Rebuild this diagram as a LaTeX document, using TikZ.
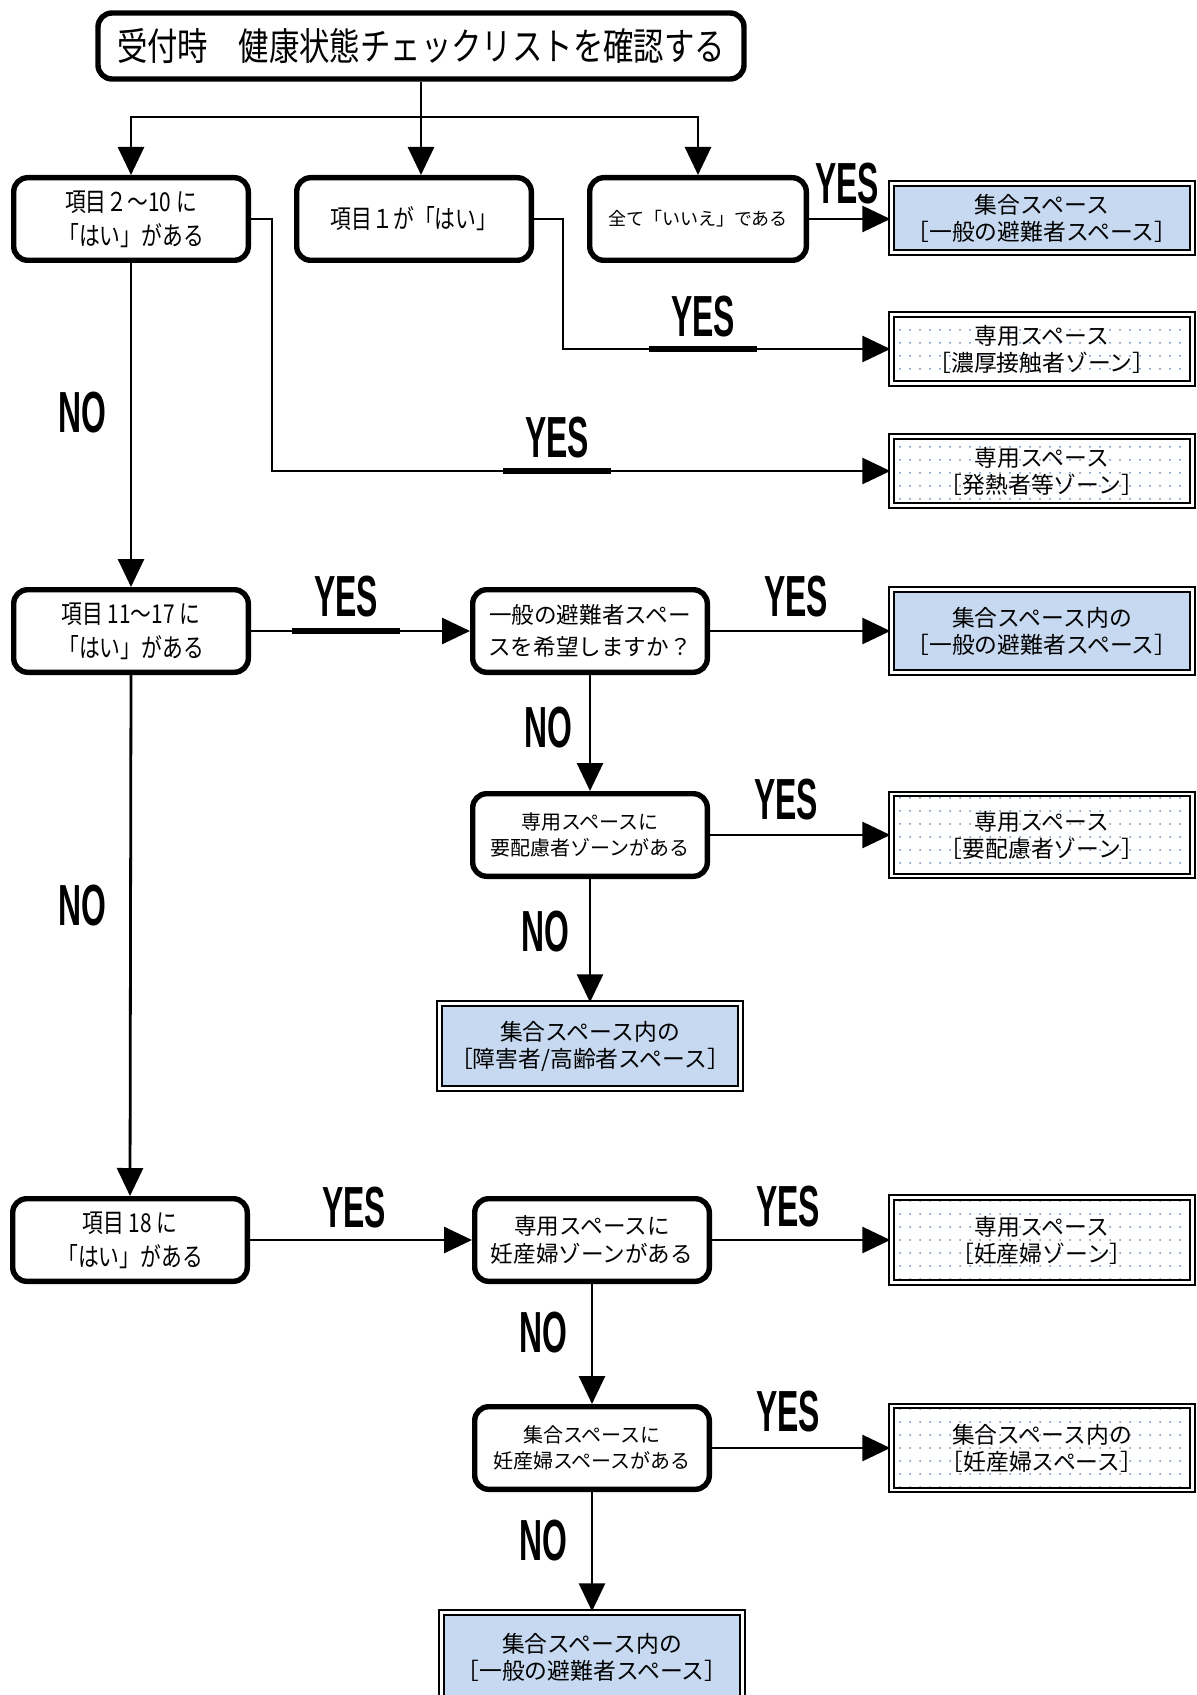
\documentclass[tikz,border=0pt]{standalone}
\usepackage{graphicx}
\usepackage{fontspec}
\setmainfont{Liberation Sans}
\newfontfamily\jp{Noto Sans CJK JP}
\newfontfamily\jpn[FakeStretch=0.8]{Noto Sans CJK JP}
\newfontfamily\lbl{Liberation Sans}
\usetikzlibrary{arrows.meta,patterns.meta}

\definecolor{spaceblue}{RGB}{198,217,240}
\definecolor{dotblue}{RGB}{105,140,190}

\tikzdeclarepattern{
  name=zonedots,
  type=uncolored,
  bounding box={(-1pt,-1pt) and (1pt,1pt)},
  tile size={(5pt,6.5pt)},
  code={\fill (0pt,0pt) circle (0.5pt);}
}

\newcommand{\yn}[1]{\scalebox{0.55}[1]{#1}}

\begin{document}
\begin{tikzpicture}[x=0.5pt, y=-0.5pt,
    check/.style={draw, rounded corners=7pt, line width=2.7pt, align=center, inner sep=2pt,
                  minimum width=117.3pt, minimum height=41.3pt},
    space/.style={draw, line width=1.1pt, double=white, double distance=1.2pt, align=center,
                  minimum width=150.6pt, font=\jp\fontsize{11.4}{13.5}\selectfont},
    gather/.style={space, fill=spaceblue},
    zone/.style={space, pattern=zonedots, pattern color=dotblue},
    line/.style={line width=1.4pt},
    arrow/.style={line, -{Triangle[length=14pt,width=13pt]}},
    answer/.style={font=\lbl\bfseries\fontsize{29}{29}\selectfont, inner sep=0pt, minimum width=54pt},
    underbar/.style={line width=2.8pt}]

    \useasboundingbox (0,0) rectangle (1197,1695);

    % Start
    \node[check, minimum width=323pt, minimum height=33pt, font=\jpn\fontsize{19}{22}\selectfont]
        (top) at (421,46) {受付時　健康状態チェックリストを確認する};

    % First checks
    \node[check, font=\jpn\fontsize{13}{17}\selectfont] (A) at (131,219) {項目２〜10 に\\「はい」がある};
    \node[check, font=\jpn\fontsize{13}{17}\selectfont] (B) at (414,219) {項目１が「はい」};
    \node[check, minimum width=108.3pt, font=\jp\fontsize{9}{11}\selectfont] (C) at (698,219) {全て「いいえ」である};

    \node[gather, minimum height=34.6pt] (R1) at (1042,218) {集合スペース\\［一般の避難者スペース］};
    \node[zone, minimum height=34.6pt] (R2) at (1042,349) {専用スペース\\［濃厚接触者ゾーン］};
    \node[zone, minimum height=34.6pt] (R3) at (1042,471) {専用スペース\\［発熱者等ゾーン］};

    % Items 11-17
    \node[check, font=\jpn\fontsize{13}{17}\selectfont] (D) at (131,631) {項目 11〜17 に\\「はい」がある};
    \node[check, font=\jp\fontsize{11.3}{16}\selectfont] (E) at (590,631) {一般の避難者スペー\\スを希望しますか？};
    \node[check, font=\jp\fontsize{10}{13}\selectfont] (F) at (590,835) {専用スペースに\\要配慮者ゾーンがある};

    \node[gather, minimum height=41.6pt] (R4) at (1042,631) {集合スペース内の\\［一般の避難者スペース］};
    \node[zone, minimum height=41pt] (R5) at (1042,835) {専用スペース\\［要配慮者ゾーン］};
    \node[gather, minimum height=42.6pt] (R6) at (590,1046) {集合スペース内の\\［障害者/高齢者スペース］};

    % Item 18
    \node[check, font=\jpn\fontsize{13}{17}\selectfont] (G) at (130,1240) {項目 18 に\\「はい」がある};
    \node[check, font=\jp\fontsize{11.3}{14}\selectfont] (H) at (592,1240) {専用スペースに\\妊産婦ゾーンがある};
    \node[check, font=\jp\fontsize{10}{13}\selectfont] (I) at (592,1448) {集合スペースに\\妊産婦スペースがある};

    \node[zone, minimum height=42.6pt] (R7) at (1042,1240) {専用スペース\\［妊産婦ゾーン］};
    \node[zone, minimum height=42pt] (R8) at (1042,1448) {集合スペース内の\\［妊産婦スペース］};
    \node[gather, minimum height=44.6pt] (R9) at (592,1657) {集合スペース内の\\［一般の避難者スペース］};

    % Connectors
    \coordinate (split) at (421,117);
    \draw[line] (top.south) -- (split);
    \draw[arrow] (split) -| (A.north);
    \draw[arrow] (split) -- (split |- B.north);
    \draw[arrow] (split) -| (C.north);

    \draw[arrow] (C.east) -- (C.east -| R1.west);
    \draw[arrow] (B.east) -- ++(29,0) |- (R2.west);
    \draw[arrow] (A.east) -- ++(21,0) |- (R3.west);
    \draw[arrow] (A.south) -- (D.north);

    \draw[arrow] (D.east) -- (E.west);
    \draw[arrow] (E.east) -- (R4.west);
    \draw[arrow] (E.south) -- (F.north);
    \draw[arrow] (F.east) -- (R5.west);
    \draw[arrow] (F.south) -- (R6.north);
    \draw[arrow] (D.south) -- (G.north);

    \draw[arrow] (G.east) -- (H.west);
    \draw[arrow] (H.east) -- (R7.west);
    \draw[arrow] (H.south) -- (I.north);
    \draw[arrow] (I.east) -- (R8.west);
    \draw[arrow] (I.south) -- (R9.north);

    % Answers
    \node[answer] (yC) at (847,184) {\yn{YES}};
    \node[answer] (yB) at (703,317) {\yn{YES}};
    \node[answer] (yA) at (557,438) {\yn{YES}};
    \node[answer] (nA) at (82,413) {\yn{NO}};
    \node[answer] (yD) at (346,597) {\yn{YES}};
    \node[answer] (yE) at (796,597) {\yn{YES}};
    \node[answer] (nE) at (548,728) {\yn{NO}};
    \node[answer] (yF) at (786,800) {\yn{YES}};
    \node[answer] (nF) at (545,932) {\yn{NO}};
    \node[answer] (nD) at (82,906) {\yn{NO}};
    \node[answer] (yG) at (354,1208) {\yn{YES}};
    \node[answer] (yH) at (788,1207) {\yn{YES}};
    \node[answer] (nH) at (543,1333) {\yn{NO}};
    \node[answer] (yI) at (788,1412) {\yn{YES}};
    \node[answer] (nI) at (543,1541) {\yn{NO}};

    \draw[underbar] (yB.west |- R2.west) -- (yB.east |- R2.west);
    \draw[underbar] (yA.west |- R3.west) -- (yA.east |- R3.west);
    \draw[underbar] (yD.west |- E.west) -- (yD.east |- E.west);
\end{tikzpicture}
\end{document}
